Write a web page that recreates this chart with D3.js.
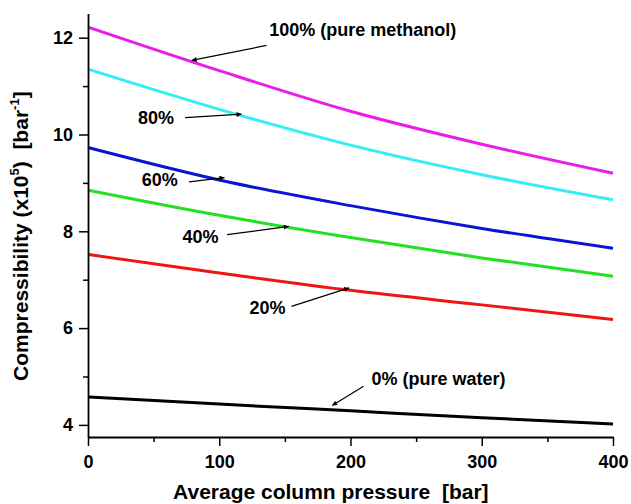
<!DOCTYPE html>
<html>
<head>
<meta charset="utf-8">
<script src="https://cdn.jsdelivr.net/npm/d3@7"></script>
<style>
  body { margin: 0; background: #fff; }
  text { font-family: "Liberation Sans", Arial, sans-serif; font-weight: bold; white-space: pre; }
</style>
</head>
<body>
<svg id="chart" width="631" height="504"></svg>
<script>
// pressure [bar]
const pressure = [0, 100, 200, 300, 400];

// compressibility (x10^5) [bar^-1] for each methanol fraction
const methanol100 = [12.22, 11.32, 10.48, 9.80, 9.20];
const methanol80  = [11.35, 10.52, 9.78, 9.17, 8.65];
const methanol60  = [9.73, 9.06, 8.53, 8.06, 7.65];
const methanol40  = [8.85, 8.33, 7.87, 7.45, 7.07];
const methanol20  = [7.52, 7.14, 6.78, 6.48, 6.18];
const methanol0   = [4.58, 4.43, 4.29, 4.15, 4.02];

const seriesNames  = ["100%", "80%", "60%", "40%", "20%", "0%"];
const seriesValues = [methanol100, methanol80, methanol60, methanol40, methanol20, methanol0];
const seriesColors = ["#e81ee8", "#33eef5", "#0a14d2", "#22e022", "#f01414", "#000000"];

const xTicks = [0, 100, 200, 300, 400];
const xMinor = [50, 150, 250, 350];
const yTicks = [4, 6, 8, 10, 12];
const yMinor = [5, 7, 9, 11];

// annotations: label text, label anchor (data units), arrow tail and tip (data units)
const labels = [
  {text: "100% (pure methanol)", lx: 138, ly: 12.03, tail: [136, 11.84], tip: [79, 11.53]},
  {text: "80%",  lx: 38,  ly: 10.21, tail: [74, 10.35], tip: [117, 10.42]},
  {text: "60%",  lx: 41,  ly: 8.93,  tail: [77, 9.02],  tip: [104, 9.11]},
  {text: "40%",  lx: 72,  ly: 7.75,  tail: [106, 7.93], tip: [153, 8.10]},
  {text: "20%",  lx: 123, ly: 6.30,  tail: [155, 6.45], tip: [199, 6.83]},
  {text: "0% (pure water)", lx: 216, ly: 4.82, tail: [210, 4.80], tip: [186, 4.40]}
];

const svgEl = d3.select("#chart");
const margin = {top: 13.5, right: 18, bottom: 67, left: 88};
const width = 631 - margin.left - margin.right;
const height = 504 - margin.top - margin.bottom;

const x = d3.scaleLinear().domain([0, 400]).range([0, width]);
const y = d3.scaleLinear().domain([3.75, 12.5]).range([height, 0]);

const g = svgEl.append("g").attr("transform", `translate(${margin.left},${margin.top})`);

// arrow marker
svgEl.append("defs").append("marker")
  .attr("id", "arrow")
  .attr("viewBox", "0 -5 10 10")
  .attr("refX", 10)
  .attr("refY", 0)
  .attr("markerWidth", 9)
  .attr("markerHeight", 5)
  .attr("markerUnits", "userSpaceOnUse")
  .attr("orient", "auto")
  .append("path")
  .attr("d", "M0,-5L10,0L0,5Z")
  .attr("fill", "#000");

// lines
const line = d3.line()
  .x((d, i) => x(pressure[i]))
  .y(d => y(d))
  .curve(d3.curveMonotoneX);

g.selectAll("path.series")
  .data(seriesValues)
  .enter().append("path")
  .attr("class", "series")
  .attr("fill", "none")
  .attr("stroke", (d, i) => seriesColors[i])
  .attr("stroke-width", 3)
  .attr("d", line);

// axes
g.append("g")
  .attr("transform", `translate(0,${height})`)
  .call(d3.axisBottom(x).tickValues(xTicks).tickSize(9).tickPadding(9).tickSizeOuter(0));
g.append("g")
  .attr("transform", `translate(0,${height})`)
  .call(d3.axisBottom(x).tickValues(xMinor).tickSize(5).tickFormat("").tickSizeOuter(0))
  .select(".domain").remove();

g.append("g")
  .call(d3.axisLeft(y).tickValues(yTicks).tickSize(9).tickPadding(6).tickSizeOuter(0));
g.append("g")
  .call(d3.axisLeft(y).tickValues(yMinor).tickSize(5).tickFormat("").tickSizeOuter(0))
  .select(".domain").remove();

g.selectAll(".domain").attr("stroke", "#000").attr("stroke-width", 1.8);
g.selectAll(".tick line").attr("stroke", "#000").attr("stroke-width", 1.5);
g.selectAll(".tick text")
  .attr("font-family", "'Liberation Sans', Arial, sans-serif")
  .attr("font-weight", "bold")
  .attr("font-size", 18)
  .attr("fill", "#000");

// axis titles
g.append("text")
  .attr("x", x(185))
  .attr("y", height + 62)
  .attr("text-anchor", "middle")
  .attr("font-size", 21)
  .text("Average column pressure  [bar]");

const yTitle = g.append("text")
  .attr("transform", `translate(-60,${y(7.9)}) rotate(-90)`)
  .attr("text-anchor", "middle")
  .attr("font-size", 21);
yTitle.append("tspan").text("Compressibility (x10");
yTitle.append("tspan").attr("font-size", 13).attr("dy", -9).text("5");
yTitle.append("tspan").attr("dy", 9).text(")  [bar");
yTitle.append("tspan").attr("font-size", 13).attr("dy", -9).text("-1");
yTitle.append("tspan").attr("dy", 9).text("]");

// annotations
const ann = g.append("g");
ann.selectAll("line")
  .data(labels)
  .enter().append("line")
  .attr("x1", d => x(d.tail[0]))
  .attr("y1", d => y(d.tail[1]))
  .attr("x2", d => x(d.tip[0]))
  .attr("y2", d => y(d.tip[1]))
  .attr("stroke", "#000")
  .attr("stroke-width", 1.2)
  .attr("marker-end", "url(#arrow)");

ann.selectAll("text")
  .data(labels)
  .enter().append("text")
  .attr("x", d => x(d.lx))
  .attr("y", d => y(d.ly))
  .attr("font-size", 18)
  .text(d => d.text);
</script>
</body>
</html>
